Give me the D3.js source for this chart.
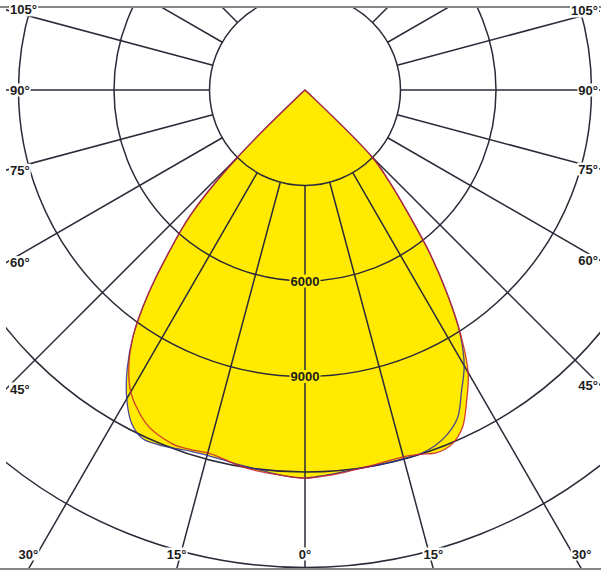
<!DOCTYPE html>
<html>
<head>
<meta charset="utf-8">
<script src="https://cdn.jsdelivr.net/npm/d3@7"></script>
<style>
  body { margin: 0; background: #fff; }
  svg { display: block; }
  text { font-family: 'Liberation Sans', Arial, sans-serif; }
</style>
</head>
<body>
<div class="polar-chart"></div>
<script>
// gamma angles in degrees, 0 = straight down, negative = left half
const angles = [-90, -80, -70, -60, -50, -47.5, -45, -42.5, -40, -37.5, -35, -32.5, -30, -27.5, -25,
  -22.5, -20, -17.5, -15, -12.5, -10, -7.5, -5, -2.5, 0, 2.5, 5, 7.5, 10, 12.5, 15, 17.5, 20, 22.5,
  25, 27.5, 30, 32.5, 35, 37.5, 40, 42.5, 45, 47.5, 50, 60, 70, 80, 90];

// intensity (cd), blue plane
const planeBlue = [0, 0, 0, 0, 0, 200, 3100, 5300, 6650, 8100, 9400, 10400, 11200, 11800, 12080,
  12060, 11980, 11900, 11880, 11900, 11950, 12000, 12080, 12150, 12190, 12130, 12070, 12020, 12000, 12000,
  11990, 11990, 11900, 11700, 11350, 10650, 10000, 9060, 7750, 6400, 5000, 3950, 3000, 200, 0, 0, 0, 0, 0];

// intensity (cd), red plane
const planeRed = [0, 0, 0, 0, 0, 200, 3100, 5300, 6650, 8100, 9400, 10300, 10950, 11350, 11650,
  11800, 11880, 11850, 11800, 11870, 11980, 12050, 12100, 12150, 12190, 12150, 12100, 12030, 11980, 11940,
  11930, 12000, 12120, 12050, 11700, 11000, 10250, 9100, 7750, 6400, 5000, 3950, 3000, 200, 0, 0, 0, 0, 0];

const ringValues = [3000, 6000, 9000, 12000, 15000];
const ringLabels = ['6000', '9000'];
const spokeAngles = [-165, -150, -135, -120, -105, -90, -75, -60, -45, -30, -15, 0,
  15, 30, 45, 60, 75, 90, 105, 120, 135, 150, 165, 180];
const sideTicks = [45, 60, 75, 90, 105];
const bottomTicks = [-30, -15, 0, 15, 30];

const width = 601;
const height = 572;
const cx = 305;
const cy = 90;
const frame = { left: 6, right: 600, top: 7, bottom: 569 };

const r = d3.scaleLinear().domain([0, 15000]).range([0, 477.5]);
const rad = d => d * Math.PI / 180;

const svg = d3
  .select('.polar-chart')
  .append('svg')
  .attr('width', width)
  .attr('height', height);

svg
  .append('clipPath')
  .attr('id', 'frame-clip')
  .append('rect')
  .attr('x', frame.left)
  .attr('y', frame.top)
  .attr('width', frame.right - frame.left)
  .attr('height', frame.bottom - frame.top);

const plot = svg
  .append('g')
  .attr('clip-path', 'url(#frame-clip)')
  .append('g')
  .attr('transform', 'translate(' + cx + ',' + cy + ')');

const series = [
  { values: planeBlue, color: '#2c2c9c' },
  { values: planeRed, color: '#c8202e' }
];

const curve = d3
  .lineRadial()
  .angle(d => Math.PI - rad(d.a))
  .radius(d => r(d.v))
  .curve(d3.curveCatmullRom.alpha(0.5));

const toPoints = vals => angles.map((a, i) => ({ a: a, v: vals[i] }));

// yellow area of both planes
plot
  .selectAll('.fill')
  .data(series)
  .enter()
  .append('path')
  .attr('fill', '#ffea00')
  .attr('stroke', 'none')
  .attr('d', d => curve(toPoints(d.values)) + 'Z');

// rings
plot
  .selectAll('.ring')
  .data(ringValues)
  .enter()
  .append('circle')
  .attr('r', d => r(d))
  .attr('fill', 'none')
  .attr('stroke', '#2a2a38')
  .attr('stroke-width', 1.5);

// spokes, starting on the first ring
plot
  .selectAll('.spoke')
  .data(spokeAngles)
  .enter()
  .append('line')
  .attr('x1', d => r(3000) * Math.sin(rad(d)))
  .attr('y1', d => r(3000) * Math.cos(rad(d)))
  .attr('x2', d => r(25000) * Math.sin(rad(d)))
  .attr('y2', d => r(25000) * Math.cos(rad(d)))
  .attr('stroke', '#2a2a38')
  .attr('stroke-width', 1.5);

// curve outlines
plot
  .selectAll('.outline')
  .data(series)
  .enter()
  .append('path')
  .attr('fill', 'none')
  .attr('stroke', d => d.color)
  .attr('stroke-width', 1.3)
  .attr('stroke-opacity', 0.85)
  .attr('d', d => curve(toPoints(d.values)) + 'Z');

// frame lines
svg
  .selectAll('.frame-line')
  .data([frame.top, frame.bottom])
  .enter()
  .append('line')
  .attr('x1', 0)
  .attr('x2', width)
  .attr('y1', d => d)
  .attr('y2', d => d)
  .attr('stroke', '#858585')
  .attr('stroke-width', 2);

// where a spoke leaves the frame
function edgePoint(deg) {
  const dx = Math.sin(rad(deg));
  const dy = Math.cos(rad(deg));
  let k = Infinity;
  if (dx < -1e-9) k = Math.min(k, (frame.left - cx) / dx);
  if (dx > 1e-9) k = Math.min(k, (frame.right - cx) / dx);
  if (dy > 1e-9) k = Math.min(k, (frame.bottom - cy) / dy);
  if (dy < -1e-9) k = Math.min(k, (frame.top - cy) / dy);
  return [cx + k * dx, cy + k * dy];
}

function addLabel(parent, txt, x, y, anchor, bg, size) {
  const g = parent.append('g');
  const t = g
    .append('text')
    .attr('x', x)
    .attr('y', y)
    .attr('text-anchor', anchor)
    .attr('dominant-baseline', 'central')
    .attr('font-size', size)
    .attr('font-weight', 'bold')
    .attr('fill', '#1c1c1c')
    .text(txt);
  const b = t.node().getBBox();
  g.insert('rect', 'text')
    .attr('x', b.x - 1)
    .attr('y', b.y + 1)
    .attr('width', b.width + 2)
    .attr('height', b.height - 2)
    .attr('fill', bg);
}

const labels = svg.append('g');

// side angle labels
sideTicks.forEach(a => {
  const pl = edgePoint(-a);
  addLabel(labels, a + '°', frame.left + 4, pl[1], 'start', '#fff', 13);
  const pr = edgePoint(a);
  addLabel(labels, a + '°', frame.right - 2, pr[1], 'end', '#fff', 13);
});

// bottom angle labels
bottomTicks.forEach(a => {
  const p = edgePoint(a);
  addLabel(labels, Math.abs(a) + '°', p[0], frame.bottom - 15, 'middle', '#fff', 13);
});

// ring value labels on the 0° axis
ringLabels.forEach(v => {
  addLabel(labels, v, cx, cy + r(+v), 'middle', '#ffea00', 13);
});
</script>
</body>
</html>
